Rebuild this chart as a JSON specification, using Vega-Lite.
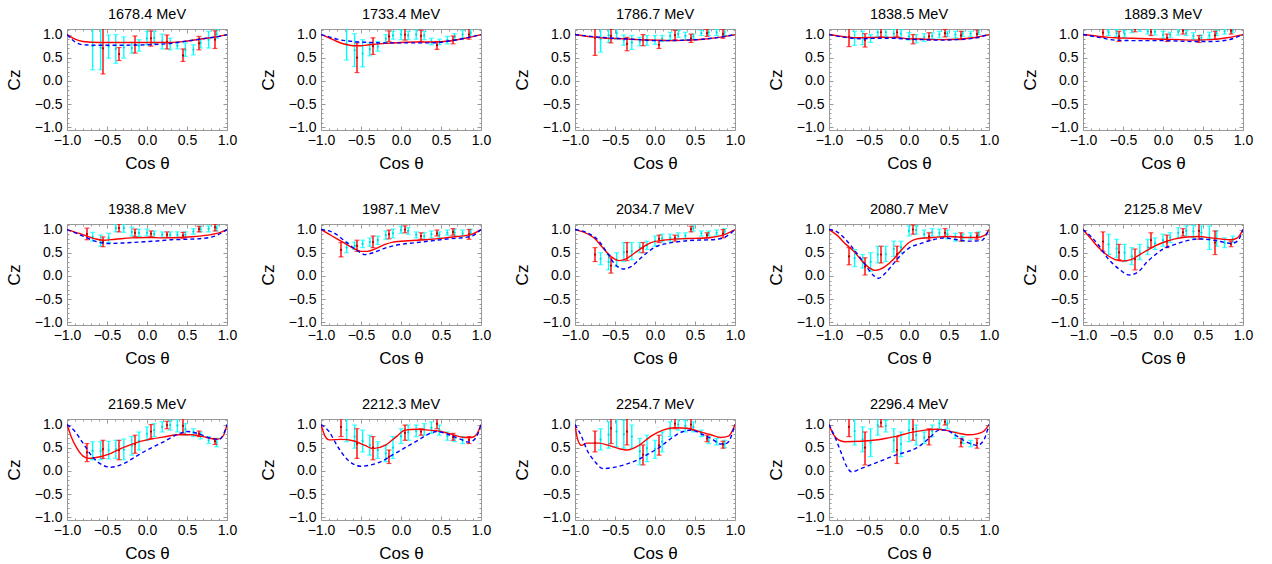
{
"$schema":"https://vega.github.io/schema/vega-lite/v6.json",
"background":"white",
"padding":{"left":4,"top":6,"right":5,"bottom":5},
"bounds":"flush",
"config":{"font":"Liberation Sans","view":{"stroke":"#999999","strokeWidth":1},
"axis":{"labelFont":"Liberation Sans","labelFontSize":14,"labelColor":"#000","titleFont":"Liberation Sans","titleFontSize":17,"titleFontWeight":"normal","titleColor":"#000","ticks":false,"domain":false,"grid":true,"gridColor":"#999999","gridWidth":1,"labelPadding":5,"labelFlush":false,"labelOverlap":false},
"axisY":{"titlePadding":11},"axisX":{"titlePadding":8,"labelPadding":3},
"header":{"labelFont":"Liberation Sans","labelFontSize":14.5,"labelColor":"#000"}},
"data":{"values":[
{"p":"1678.4 MeV","k":"c","x":-0.68,"lo":0.24,"y":0.75,"hi":1.26},
{"p":"1678.4 MeV","k":"c","x":-0.58,"lo":0.24,"y":0.72,"hi":1.2},
{"p":"1678.4 MeV","k":"c","x":-0.48,"lo":0.49,"y":0.74,"hi":0.99},
{"p":"1678.4 MeV","k":"c","x":-0.39,"lo":0.38,"y":0.69,"hi":1.0},
{"p":"1678.4 MeV","k":"c","x":-0.29,"lo":0.49,"y":0.72,"hi":0.95},
{"p":"1678.4 MeV","k":"c","x":-0.19,"lo":0.6,"y":0.71,"hi":0.83},
{"p":"1678.4 MeV","k":"c","x":-0.1,"lo":0.64,"y":0.76,"hi":0.89},
{"p":"1678.4 MeV","k":"c","x":0.0,"lo":0.78,"y":0.92,"hi":1.07},
{"p":"1678.4 MeV","k":"c","x":0.09,"lo":0.8,"y":0.93,"hi":1.07},
{"p":"1678.4 MeV","k":"c","x":0.19,"lo":0.69,"y":0.85,"hi":1.01},
{"p":"1678.4 MeV","k":"c","x":0.29,"lo":0.67,"y":0.8,"hi":0.92},
{"p":"1678.4 MeV","k":"c","x":0.38,"lo":0.69,"y":0.76,"hi":0.83},
{"p":"1678.4 MeV","k":"c","x":0.48,"lo":0.53,"y":0.67,"hi":0.82},
{"p":"1678.4 MeV","k":"c","x":0.58,"lo":0.56,"y":0.67,"hi":0.78},
{"p":"1678.4 MeV","k":"c","x":0.67,"lo":0.71,"y":0.82,"hi":0.92},
{"p":"1678.4 MeV","k":"c","x":0.77,"lo":0.71,"y":0.89,"hi":1.07},
{"p":"1678.4 MeV","k":"c","x":0.87,"lo":0.92,"y":1.01,"hi":1.1},
{"p":"1678.4 MeV","k":"r","x":-0.55,"lo":0.15,"y":0.7,"hi":1.25},
{"p":"1678.4 MeV","k":"r","x":-0.35,"lo":0.44,"y":0.58,"hi":0.72},
{"p":"1678.4 MeV","k":"r","x":-0.15,"lo":0.6,"y":0.78,"hi":0.97},
{"p":"1678.4 MeV","k":"r","x":0.05,"lo":0.75,"y":0.92,"hi":1.08},
{"p":"1678.4 MeV","k":"r","x":0.25,"lo":0.69,"y":0.84,"hi":0.99},
{"p":"1678.4 MeV","k":"r","x":0.45,"lo":0.42,"y":0.55,"hi":0.69},
{"p":"1678.4 MeV","k":"r","x":0.65,"lo":0.67,"y":0.81,"hi":0.96},
{"p":"1678.4 MeV","k":"r","x":0.85,"lo":0.7,"y":0.89,"hi":1.08},
{"p":"1678.4 MeV","k":"R","x":-1,"y":1},{"p":"1678.4 MeV","k":"R","x":-0.9,"y":0.9},{"p":"1678.4 MeV","k":"R","x":-0.8,"y":0.85},{"p":"1678.4 MeV","k":"R","x":-0.6,"y":0.83},{"p":"1678.4 MeV","k":"R","x":-0.3,"y":0.83},{"p":"1678.4 MeV","k":"R","x":0,"y":0.83},{"p":"1678.4 MeV","k":"R","x":0.3,"y":0.83},{"p":"1678.4 MeV","k":"R","x":0.5,"y":0.86},{"p":"1678.4 MeV","k":"R","x":0.7,"y":0.91},{"p":"1678.4 MeV","k":"R","x":0.9,"y":0.96},{"p":"1678.4 MeV","k":"R","x":1,"y":1},
{"p":"1678.4 MeV","k":"B","x":-1,"y":1},{"p":"1678.4 MeV","k":"B","x":-0.9,"y":0.84},{"p":"1678.4 MeV","k":"B","x":-0.8,"y":0.78},{"p":"1678.4 MeV","k":"B","x":-0.6,"y":0.77},{"p":"1678.4 MeV","k":"B","x":-0.3,"y":0.77},{"p":"1678.4 MeV","k":"B","x":0,"y":0.78},{"p":"1678.4 MeV","k":"B","x":0.3,"y":0.81},{"p":"1678.4 MeV","k":"B","x":0.5,"y":0.86},{"p":"1678.4 MeV","k":"B","x":0.7,"y":0.91},{"p":"1678.4 MeV","k":"B","x":0.9,"y":0.96},{"p":"1678.4 MeV","k":"B","x":1,"y":1},

{"p":"1733.4 MeV","k":"c","x":-0.68,"lo":0.45,"y":0.8,"hi":1.15},
{"p":"1733.4 MeV","k":"c","x":-0.58,"lo":0.31,"y":0.66,"hi":1.02},
{"p":"1733.4 MeV","k":"c","x":-0.48,"lo":0.3,"y":0.59,"hi":0.89},
{"p":"1733.4 MeV","k":"c","x":-0.39,"lo":0.54,"y":0.68,"hi":0.82},
{"p":"1733.4 MeV","k":"c","x":-0.29,"lo":0.64,"y":0.74,"hi":0.85},
{"p":"1733.4 MeV","k":"c","x":-0.19,"lo":0.83,"y":0.91,"hi":1.0},
{"p":"1733.4 MeV","k":"c","x":-0.1,"lo":0.9,"y":0.98,"hi":1.07},
{"p":"1733.4 MeV","k":"c","x":0.0,"lo":0.89,"y":1.0,"hi":1.1},
{"p":"1733.4 MeV","k":"c","x":0.09,"lo":0.89,"y":0.98,"hi":1.07},
{"p":"1733.4 MeV","k":"c","x":0.19,"lo":0.9,"y":1.0,"hi":1.1},
{"p":"1733.4 MeV","k":"c","x":0.29,"lo":0.89,"y":0.98,"hi":1.07},
{"p":"1733.4 MeV","k":"c","x":0.38,"lo":0.78,"y":0.85,"hi":0.92},
{"p":"1733.4 MeV","k":"c","x":0.48,"lo":0.78,"y":0.84,"hi":0.9},
{"p":"1733.4 MeV","k":"c","x":0.58,"lo":0.8,"y":0.88,"hi":0.96},
{"p":"1733.4 MeV","k":"c","x":0.67,"lo":0.87,"y":0.95,"hi":1.02},
{"p":"1733.4 MeV","k":"c","x":0.77,"lo":0.92,"y":1.0,"hi":1.09},
{"p":"1733.4 MeV","k":"c","x":0.87,"lo":0.96,"y":1.04,"hi":1.12},
{"p":"1733.4 MeV","k":"r","x":-0.55,"lo":0.18,"y":0.5,"hi":0.82},
{"p":"1733.4 MeV","k":"r","x":-0.35,"lo":0.57,"y":0.75,"hi":0.93},
{"p":"1733.4 MeV","k":"r","x":-0.15,"lo":0.85,"y":0.96,"hi":1.08},
{"p":"1733.4 MeV","k":"r","x":0.05,"lo":0.88,"y":1.0,"hi":1.13},
{"p":"1733.4 MeV","k":"r","x":0.25,"lo":0.85,"y":0.97,"hi":1.09},
{"p":"1733.4 MeV","k":"r","x":0.45,"lo":0.68,"y":0.77,"hi":0.85},
{"p":"1733.4 MeV","k":"r","x":0.65,"lo":0.8,"y":0.88,"hi":0.97},
{"p":"1733.4 MeV","k":"r","x":0.85,"lo":0.9,"y":1.0,"hi":1.13},
{"p":"1733.4 MeV","k":"R","x":-1,"y":1},{"p":"1733.4 MeV","k":"R","x":-0.9,"y":0.93},{"p":"1733.4 MeV","k":"R","x":-0.8,"y":0.85},{"p":"1733.4 MeV","k":"R","x":-0.7,"y":0.79},{"p":"1733.4 MeV","k":"R","x":-0.6,"y":0.76},{"p":"1733.4 MeV","k":"R","x":-0.5,"y":0.76},{"p":"1733.4 MeV","k":"R","x":-0.4,"y":0.78},{"p":"1733.4 MeV","k":"R","x":-0.2,"y":0.81},{"p":"1733.4 MeV","k":"R","x":0,"y":0.83},{"p":"1733.4 MeV","k":"R","x":0.2,"y":0.84},{"p":"1733.4 MeV","k":"R","x":0.4,"y":0.84},{"p":"1733.4 MeV","k":"R","x":0.6,"y":0.86},{"p":"1733.4 MeV","k":"R","x":0.8,"y":0.92},{"p":"1733.4 MeV","k":"R","x":1,"y":1},
{"p":"1733.4 MeV","k":"B","x":-1,"y":1},{"p":"1733.4 MeV","k":"B","x":-0.9,"y":0.95},{"p":"1733.4 MeV","k":"B","x":-0.8,"y":0.9},{"p":"1733.4 MeV","k":"B","x":-0.6,"y":0.85},{"p":"1733.4 MeV","k":"B","x":-0.4,"y":0.83},{"p":"1733.4 MeV","k":"B","x":-0.2,"y":0.82},{"p":"1733.4 MeV","k":"B","x":0,"y":0.82},{"p":"1733.4 MeV","k":"B","x":0.2,"y":0.82},{"p":"1733.4 MeV","k":"B","x":0.4,"y":0.82},{"p":"1733.4 MeV","k":"B","x":0.6,"y":0.86},{"p":"1733.4 MeV","k":"B","x":0.8,"y":0.92},{"p":"1733.4 MeV","k":"B","x":1,"y":1},

{"p":"1786.7 MeV","k":"c","x":-0.68,"lo":0.62,"y":0.9,"hi":1.18},
{"p":"1786.7 MeV","k":"c","x":-0.58,"lo":0.83,"y":0.98,"hi":1.14},
{"p":"1786.7 MeV","k":"c","x":-0.48,"lo":0.9,"y":1.03,"hi":1.16},
{"p":"1786.7 MeV","k":"c","x":-0.39,"lo":0.77,"y":0.88,"hi":0.99},
{"p":"1786.7 MeV","k":"c","x":-0.29,"lo":0.68,"y":0.83,"hi":0.98},
{"p":"1786.7 MeV","k":"c","x":-0.19,"lo":0.76,"y":0.85,"hi":0.94},
{"p":"1786.7 MeV","k":"c","x":-0.1,"lo":0.77,"y":0.87,"hi":0.98},
{"p":"1786.7 MeV","k":"c","x":0.0,"lo":0.79,"y":0.88,"hi":0.98},
{"p":"1786.7 MeV","k":"c","x":0.09,"lo":0.85,"y":0.91,"hi":0.98},
{"p":"1786.7 MeV","k":"c","x":0.19,"lo":0.89,"y":0.97,"hi":1.05},
{"p":"1786.7 MeV","k":"c","x":0.29,"lo":0.94,"y":1.01,"hi":1.09},
{"p":"1786.7 MeV","k":"c","x":0.38,"lo":0.89,"y":0.97,"hi":1.05},
{"p":"1786.7 MeV","k":"c","x":0.48,"lo":0.9,"y":0.96,"hi":1.01},
{"p":"1786.7 MeV","k":"c","x":0.58,"lo":0.98,"y":1.03,"hi":1.09},
{"p":"1786.7 MeV","k":"c","x":0.67,"lo":0.98,"y":1.05,"hi":1.12},
{"p":"1786.7 MeV","k":"c","x":0.77,"lo":0.98,"y":1.05,"hi":1.12},
{"p":"1786.7 MeV","k":"c","x":0.87,"lo":0.98,"y":1.05,"hi":1.12},
{"p":"1786.7 MeV","k":"r","x":-0.75,"lo":0.55,"y":0.93,"hi":1.3},
{"p":"1786.7 MeV","k":"r","x":-0.55,"lo":0.82,"y":0.97,"hi":1.12},
{"p":"1786.7 MeV","k":"r","x":-0.35,"lo":0.65,"y":0.8,"hi":0.94},
{"p":"1786.7 MeV","k":"r","x":-0.15,"lo":0.76,"y":0.88,"hi":1.0},
{"p":"1786.7 MeV","k":"r","x":0.05,"lo":0.7,"y":0.78,"hi":0.87},
{"p":"1786.7 MeV","k":"r","x":0.25,"lo":0.89,"y":0.99,"hi":1.09},
{"p":"1786.7 MeV","k":"r","x":0.45,"lo":0.83,"y":0.92,"hi":1.01},
{"p":"1786.7 MeV","k":"r","x":0.65,"lo":0.96,"y":1.03,"hi":1.11},
{"p":"1786.7 MeV","k":"r","x":0.85,"lo":0.92,"y":1.01,"hi":1.11},
{"p":"1786.7 MeV","k":"R","x":-1,"y":1},{"p":"1786.7 MeV","k":"R","x":-0.8,"y":0.95},{"p":"1786.7 MeV","k":"R","x":-0.6,"y":0.92},{"p":"1786.7 MeV","k":"R","x":-0.4,"y":0.91},{"p":"1786.7 MeV","k":"R","x":-0.2,"y":0.89},{"p":"1786.7 MeV","k":"R","x":0,"y":0.88},{"p":"1786.7 MeV","k":"R","x":0.2,"y":0.87},{"p":"1786.7 MeV","k":"R","x":0.4,"y":0.88},{"p":"1786.7 MeV","k":"R","x":0.6,"y":0.9},{"p":"1786.7 MeV","k":"R","x":0.8,"y":0.94},{"p":"1786.7 MeV","k":"R","x":1,"y":1},
{"p":"1786.7 MeV","k":"B","x":-1,"y":1},{"p":"1786.7 MeV","k":"B","x":-0.8,"y":0.96},{"p":"1786.7 MeV","k":"B","x":-0.6,"y":0.93},{"p":"1786.7 MeV","k":"B","x":-0.4,"y":0.91},{"p":"1786.7 MeV","k":"B","x":-0.2,"y":0.89},{"p":"1786.7 MeV","k":"B","x":0,"y":0.87},{"p":"1786.7 MeV","k":"B","x":0.2,"y":0.87},{"p":"1786.7 MeV","k":"B","x":0.4,"y":0.88},{"p":"1786.7 MeV","k":"B","x":0.6,"y":0.9},{"p":"1786.7 MeV","k":"B","x":0.8,"y":0.94},{"p":"1786.7 MeV","k":"B","x":1,"y":1},

{"p":"1838.5 MeV","k":"c","x":-0.68,"lo":0.77,"y":0.92,"hi":1.07},
{"p":"1838.5 MeV","k":"c","x":-0.58,"lo":0.78,"y":0.93,"hi":1.07},
{"p":"1838.5 MeV","k":"c","x":-0.48,"lo":0.83,"y":0.92,"hi":1.0},
{"p":"1838.5 MeV","k":"c","x":-0.39,"lo":0.96,"y":1.05,"hi":1.15},
{"p":"1838.5 MeV","k":"c","x":-0.29,"lo":0.96,"y":1.05,"hi":1.15},
{"p":"1838.5 MeV","k":"c","x":-0.19,"lo":0.93,"y":1.02,"hi":1.11},
{"p":"1838.5 MeV","k":"c","x":-0.1,"lo":0.93,"y":1.02,"hi":1.11},
{"p":"1838.5 MeV","k":"c","x":0.0,"lo":0.88,"y":0.96,"hi":1.04},
{"p":"1838.5 MeV","k":"c","x":0.09,"lo":0.82,"y":0.91,"hi":1.0},
{"p":"1838.5 MeV","k":"c","x":0.19,"lo":0.85,"y":0.94,"hi":1.02},
{"p":"1838.5 MeV","k":"c","x":0.29,"lo":0.91,"y":0.97,"hi":1.04},
{"p":"1838.5 MeV","k":"c","x":0.38,"lo":0.93,"y":1.0,"hi":1.07},
{"p":"1838.5 MeV","k":"c","x":0.48,"lo":0.96,"y":1.02,"hi":1.07},
{"p":"1838.5 MeV","k":"c","x":0.58,"lo":0.93,"y":1.0,"hi":1.07},
{"p":"1838.5 MeV","k":"c","x":0.67,"lo":0.96,"y":1.02,"hi":1.07},
{"p":"1838.5 MeV","k":"c","x":0.77,"lo":0.96,"y":1.02,"hi":1.07},
{"p":"1838.5 MeV","k":"c","x":0.87,"lo":1.0,"y":1.05,"hi":1.11},
{"p":"1838.5 MeV","k":"r","x":-0.75,"lo":0.74,"y":0.95,"hi":1.15},
{"p":"1838.5 MeV","k":"r","x":-0.55,"lo":0.73,"y":0.88,"hi":1.02},
{"p":"1838.5 MeV","k":"r","x":-0.35,"lo":0.95,"y":1.05,"hi":1.15},
{"p":"1838.5 MeV","k":"r","x":-0.15,"lo":0.96,"y":1.05,"hi":1.15},
{"p":"1838.5 MeV","k":"r","x":0.05,"lo":0.8,"y":0.9,"hi":1.0},
{"p":"1838.5 MeV","k":"r","x":0.25,"lo":0.88,"y":0.96,"hi":1.04},
{"p":"1838.5 MeV","k":"r","x":0.45,"lo":0.95,"y":1.03,"hi":1.11},
{"p":"1838.5 MeV","k":"r","x":0.65,"lo":0.89,"y":0.98,"hi":1.07},
{"p":"1838.5 MeV","k":"r","x":0.85,"lo":0.93,"y":1.01,"hi":1.1},
{"p":"1838.5 MeV","k":"R","x":-1,"y":1},{"p":"1838.5 MeV","k":"R","x":-0.8,"y":0.95},{"p":"1838.5 MeV","k":"R","x":-0.6,"y":0.93},{"p":"1838.5 MeV","k":"R","x":-0.4,"y":0.94},{"p":"1838.5 MeV","k":"R","x":-0.2,"y":0.94},{"p":"1838.5 MeV","k":"R","x":0,"y":0.91},{"p":"1838.5 MeV","k":"R","x":0.2,"y":0.9},{"p":"1838.5 MeV","k":"R","x":0.4,"y":0.89},{"p":"1838.5 MeV","k":"R","x":0.6,"y":0.9},{"p":"1838.5 MeV","k":"R","x":0.8,"y":0.93},{"p":"1838.5 MeV","k":"R","x":1,"y":1},
{"p":"1838.5 MeV","k":"B","x":-1,"y":1},{"p":"1838.5 MeV","k":"B","x":-0.8,"y":0.94},{"p":"1838.5 MeV","k":"B","x":-0.6,"y":0.91},{"p":"1838.5 MeV","k":"B","x":-0.4,"y":0.92},{"p":"1838.5 MeV","k":"B","x":-0.2,"y":0.92},{"p":"1838.5 MeV","k":"B","x":0,"y":0.9},{"p":"1838.5 MeV","k":"B","x":0.2,"y":0.89},{"p":"1838.5 MeV","k":"B","x":0.4,"y":0.88},{"p":"1838.5 MeV","k":"B","x":0.6,"y":0.89},{"p":"1838.5 MeV","k":"B","x":0.8,"y":0.92},{"p":"1838.5 MeV","k":"B","x":1,"y":1},

{"p":"1889.3 MeV","k":"c","x":-0.68,"lo":0.98,"y":1.05,"hi":1.12},
{"p":"1889.3 MeV","k":"c","x":-0.58,"lo":0.96,"y":1.03,"hi":1.11},
{"p":"1889.3 MeV","k":"c","x":-0.48,"lo":0.94,"y":1.01,"hi":1.09},
{"p":"1889.3 MeV","k":"c","x":-0.39,"lo":1.04,"y":1.09,"hi":1.14},
{"p":"1889.3 MeV","k":"c","x":-0.29,"lo":1.07,"y":1.11,"hi":1.16},
{"p":"1889.3 MeV","k":"c","x":-0.19,"lo":1.01,"y":1.07,"hi":1.12},
{"p":"1889.3 MeV","k":"c","x":-0.1,"lo":0.99,"y":1.06,"hi":1.12},
{"p":"1889.3 MeV","k":"c","x":0.0,"lo":0.92,"y":0.99,"hi":1.07},
{"p":"1889.3 MeV","k":"c","x":0.09,"lo":0.94,"y":1.0,"hi":1.05},
{"p":"1889.3 MeV","k":"c","x":0.19,"lo":0.99,"y":1.06,"hi":1.12},
{"p":"1889.3 MeV","k":"c","x":0.29,"lo":0.98,"y":1.03,"hi":1.09},
{"p":"1889.3 MeV","k":"c","x":0.38,"lo":0.9,"y":0.97,"hi":1.04},
{"p":"1889.3 MeV","k":"c","x":0.48,"lo":0.87,"y":0.93,"hi":0.99},
{"p":"1889.3 MeV","k":"c","x":0.58,"lo":0.92,"y":0.98,"hi":1.05},
{"p":"1889.3 MeV","k":"c","x":0.67,"lo":0.98,"y":1.03,"hi":1.09},
{"p":"1889.3 MeV","k":"c","x":0.77,"lo":1.01,"y":1.07,"hi":1.12},
{"p":"1889.3 MeV","k":"c","x":0.87,"lo":1.04,"y":1.09,"hi":1.14},
{"p":"1889.3 MeV","k":"r","x":-0.75,"lo":0.94,"y":1.04,"hi":1.15},
{"p":"1889.3 MeV","k":"r","x":-0.55,"lo":0.85,"y":0.96,"hi":1.07},
{"p":"1889.3 MeV","k":"r","x":-0.35,"lo":1.06,"y":1.13,"hi":1.2},
{"p":"1889.3 MeV","k":"r","x":-0.15,"lo":0.98,"y":1.06,"hi":1.14},
{"p":"1889.3 MeV","k":"r","x":0.05,"lo":0.85,"y":0.93,"hi":1.01},
{"p":"1889.3 MeV","k":"r","x":0.25,"lo":1.01,"y":1.08,"hi":1.15},
{"p":"1889.3 MeV","k":"r","x":0.45,"lo":0.83,"y":0.9,"hi":0.98},
{"p":"1889.3 MeV","k":"r","x":0.65,"lo":0.9,"y":0.98,"hi":1.07},
{"p":"1889.3 MeV","k":"r","x":0.85,"lo":1.01,"y":1.08,"hi":1.16},
{"p":"1889.3 MeV","k":"R","x":-1,"y":1},{"p":"1889.3 MeV","k":"R","x":-0.8,"y":0.96},{"p":"1889.3 MeV","k":"R","x":-0.6,"y":0.93},{"p":"1889.3 MeV","k":"R","x":-0.4,"y":0.92},{"p":"1889.3 MeV","k":"R","x":-0.2,"y":0.91},{"p":"1889.3 MeV","k":"R","x":0,"y":0.9},{"p":"1889.3 MeV","k":"R","x":0.2,"y":0.89},{"p":"1889.3 MeV","k":"R","x":0.4,"y":0.88},{"p":"1889.3 MeV","k":"R","x":0.6,"y":0.89},{"p":"1889.3 MeV","k":"R","x":0.8,"y":0.93},{"p":"1889.3 MeV","k":"R","x":1,"y":1},
{"p":"1889.3 MeV","k":"B","x":-1,"y":1},{"p":"1889.3 MeV","k":"B","x":-0.8,"y":0.94},{"p":"1889.3 MeV","k":"B","x":-0.6,"y":0.88},{"p":"1889.3 MeV","k":"B","x":-0.4,"y":0.87},{"p":"1889.3 MeV","k":"B","x":-0.2,"y":0.87},{"p":"1889.3 MeV","k":"B","x":0,"y":0.87},{"p":"1889.3 MeV","k":"B","x":0.2,"y":0.86},{"p":"1889.3 MeV","k":"B","x":0.4,"y":0.85},{"p":"1889.3 MeV","k":"B","x":0.6,"y":0.85},{"p":"1889.3 MeV","k":"B","x":0.8,"y":0.88},{"p":"1889.3 MeV","k":"B","x":1,"y":1},

{"p":"1938.8 MeV","k":"c","x":-0.68,"lo":0.75,"y":0.84,"hi":0.94},
{"p":"1938.8 MeV","k":"c","x":-0.58,"lo":0.64,"y":0.76,"hi":0.88},
{"p":"1938.8 MeV","k":"c","x":-0.48,"lo":0.72,"y":0.82,"hi":0.92},
{"p":"1938.8 MeV","k":"c","x":-0.39,"lo":0.95,"y":1.03,"hi":1.12},
{"p":"1938.8 MeV","k":"c","x":-0.29,"lo":0.94,"y":1.03,"hi":1.12},
{"p":"1938.8 MeV","k":"c","x":-0.19,"lo":0.86,"y":0.95,"hi":1.05},
{"p":"1938.8 MeV","k":"c","x":-0.1,"lo":0.85,"y":0.93,"hi":1.01},
{"p":"1938.8 MeV","k":"c","x":0.0,"lo":0.86,"y":0.93,"hi":1.01},
{"p":"1938.8 MeV","k":"c","x":0.09,"lo":0.83,"y":0.9,"hi":0.97},
{"p":"1938.8 MeV","k":"c","x":0.19,"lo":0.83,"y":0.89,"hi":0.95},
{"p":"1938.8 MeV","k":"c","x":0.29,"lo":0.83,"y":0.89,"hi":0.95},
{"p":"1938.8 MeV","k":"c","x":0.38,"lo":0.83,"y":0.89,"hi":0.95},
{"p":"1938.8 MeV","k":"c","x":0.48,"lo":0.83,"y":0.89,"hi":0.95},
{"p":"1938.8 MeV","k":"c","x":0.58,"lo":0.9,"y":0.96,"hi":1.02},
{"p":"1938.8 MeV","k":"c","x":0.67,"lo":0.95,"y":1.01,"hi":1.07},
{"p":"1938.8 MeV","k":"c","x":0.77,"lo":0.95,"y":1.02,"hi":1.08},
{"p":"1938.8 MeV","k":"c","x":0.87,"lo":0.97,"y":1.03,"hi":1.08},
{"p":"1938.8 MeV","k":"r","x":-0.75,"lo":0.78,"y":0.9,"hi":1.03},
{"p":"1938.8 MeV","k":"r","x":-0.55,"lo":0.63,"y":0.73,"hi":0.84},
{"p":"1938.8 MeV","k":"r","x":-0.35,"lo":0.95,"y":1.03,"hi":1.12},
{"p":"1938.8 MeV","k":"r","x":-0.15,"lo":0.85,"y":0.93,"hi":1.01},
{"p":"1938.8 MeV","k":"r","x":0.05,"lo":0.85,"y":0.91,"hi":0.97},
{"p":"1938.8 MeV","k":"r","x":0.25,"lo":0.83,"y":0.89,"hi":0.95},
{"p":"1938.8 MeV","k":"r","x":0.45,"lo":0.81,"y":0.87,"hi":0.94},
{"p":"1938.8 MeV","k":"r","x":0.65,"lo":0.95,"y":1.01,"hi":1.07},
{"p":"1938.8 MeV","k":"r","x":0.85,"lo":0.97,"y":1.05,"hi":1.12},
{"p":"1938.8 MeV","k":"R","x":-1,"y":1},{"p":"1938.8 MeV","k":"R","x":-0.8,"y":0.89},{"p":"1938.8 MeV","k":"R","x":-0.65,"y":0.8},{"p":"1938.8 MeV","k":"R","x":-0.55,"y":0.77},{"p":"1938.8 MeV","k":"R","x":-0.4,"y":0.79},{"p":"1938.8 MeV","k":"R","x":-0.2,"y":0.82},{"p":"1938.8 MeV","k":"R","x":0,"y":0.83},{"p":"1938.8 MeV","k":"R","x":0.2,"y":0.82},{"p":"1938.8 MeV","k":"R","x":0.4,"y":0.83},{"p":"1938.8 MeV","k":"R","x":0.6,"y":0.85},{"p":"1938.8 MeV","k":"R","x":0.8,"y":0.89},{"p":"1938.8 MeV","k":"R","x":0.9,"y":0.93},{"p":"1938.8 MeV","k":"R","x":1,"y":1},
{"p":"1938.8 MeV","k":"B","x":-1,"y":1},{"p":"1938.8 MeV","k":"B","x":-0.8,"y":0.86},{"p":"1938.8 MeV","k":"B","x":-0.65,"y":0.75},{"p":"1938.8 MeV","k":"B","x":-0.5,"y":0.7},{"p":"1938.8 MeV","k":"B","x":-0.3,"y":0.71},{"p":"1938.8 MeV","k":"B","x":-0.1,"y":0.73},{"p":"1938.8 MeV","k":"B","x":0.1,"y":0.75},{"p":"1938.8 MeV","k":"B","x":0.3,"y":0.78},{"p":"1938.8 MeV","k":"B","x":0.5,"y":0.79},{"p":"1938.8 MeV","k":"B","x":0.7,"y":0.81},{"p":"1938.8 MeV","k":"B","x":0.85,"y":0.86},{"p":"1938.8 MeV","k":"B","x":1,"y":1},

{"p":"1987.1 MeV","k":"c","x":-0.68,"lo":0.5,"y":0.61,"hi":0.72},
{"p":"1987.1 MeV","k":"c","x":-0.58,"lo":0.57,"y":0.65,"hi":0.73},
{"p":"1987.1 MeV","k":"c","x":-0.48,"lo":0.61,"y":0.69,"hi":0.77},
{"p":"1987.1 MeV","k":"c","x":-0.39,"lo":0.64,"y":0.73,"hi":0.82},
{"p":"1987.1 MeV","k":"c","x":-0.29,"lo":0.68,"y":0.77,"hi":0.86},
{"p":"1987.1 MeV","k":"c","x":-0.19,"lo":0.79,"y":0.88,"hi":0.97},
{"p":"1987.1 MeV","k":"c","x":-0.1,"lo":0.82,"y":0.92,"hi":1.01},
{"p":"1987.1 MeV","k":"c","x":0.0,"lo":0.92,"y":0.99,"hi":1.07},
{"p":"1987.1 MeV","k":"c","x":0.09,"lo":0.9,"y":0.97,"hi":1.04},
{"p":"1987.1 MeV","k":"c","x":0.19,"lo":0.82,"y":0.89,"hi":0.95},
{"p":"1987.1 MeV","k":"c","x":0.29,"lo":0.79,"y":0.86,"hi":0.93},
{"p":"1987.1 MeV","k":"c","x":0.38,"lo":0.82,"y":0.9,"hi":0.97},
{"p":"1987.1 MeV","k":"c","x":0.48,"lo":0.82,"y":0.89,"hi":0.95},
{"p":"1987.1 MeV","k":"c","x":0.58,"lo":0.88,"y":0.93,"hi":0.99},
{"p":"1987.1 MeV","k":"c","x":0.67,"lo":0.86,"y":0.93,"hi":1.01},
{"p":"1987.1 MeV","k":"c","x":0.77,"lo":0.86,"y":0.92,"hi":0.99},
{"p":"1987.1 MeV","k":"c","x":0.87,"lo":0.88,"y":0.94,"hi":1.01},
{"p":"1987.1 MeV","k":"r","x":-0.75,"lo":0.41,"y":0.56,"hi":0.72},
{"p":"1987.1 MeV","k":"r","x":-0.55,"lo":0.53,"y":0.65,"hi":0.77},
{"p":"1987.1 MeV","k":"r","x":-0.35,"lo":0.61,"y":0.73,"hi":0.86},
{"p":"1987.1 MeV","k":"r","x":-0.15,"lo":0.8,"y":0.9,"hi":0.99},
{"p":"1987.1 MeV","k":"r","x":0.05,"lo":0.93,"y":1.0,"hi":1.08},
{"p":"1987.1 MeV","k":"r","x":0.25,"lo":0.79,"y":0.86,"hi":0.93},
{"p":"1987.1 MeV","k":"r","x":0.45,"lo":0.86,"y":0.92,"hi":0.99},
{"p":"1987.1 MeV","k":"r","x":0.65,"lo":0.88,"y":0.95,"hi":1.02},
{"p":"1987.1 MeV","k":"r","x":0.85,"lo":0.79,"y":0.9,"hi":1.0},
{"p":"1987.1 MeV","k":"R","x":-1,"y":1},{"p":"1987.1 MeV","k":"R","x":-0.9,"y":0.9},{"p":"1987.1 MeV","k":"R","x":-0.8,"y":0.8},{"p":"1987.1 MeV","k":"R","x":-0.7,"y":0.7},{"p":"1987.1 MeV","k":"R","x":-0.6,"y":0.6},{"p":"1987.1 MeV","k":"R","x":-0.5,"y":0.53},{"p":"1987.1 MeV","k":"R","x":-0.42,"y":0.53},{"p":"1987.1 MeV","k":"R","x":-0.3,"y":0.6},{"p":"1987.1 MeV","k":"R","x":-0.2,"y":0.68},{"p":"1987.1 MeV","k":"R","x":-0.1,"y":0.73},{"p":"1987.1 MeV","k":"R","x":0.1,"y":0.76},{"p":"1987.1 MeV","k":"R","x":0.3,"y":0.78},{"p":"1987.1 MeV","k":"R","x":0.5,"y":0.81},{"p":"1987.1 MeV","k":"R","x":0.7,"y":0.85},{"p":"1987.1 MeV","k":"R","x":0.87,"y":0.89},{"p":"1987.1 MeV","k":"R","x":1,"y":1},
{"p":"1987.1 MeV","k":"B","x":-1,"y":1},{"p":"1987.1 MeV","k":"B","x":-0.85,"y":0.94},{"p":"1987.1 MeV","k":"B","x":-0.7,"y":0.75},{"p":"1987.1 MeV","k":"B","x":-0.55,"y":0.55},{"p":"1987.1 MeV","k":"B","x":-0.45,"y":0.46},{"p":"1987.1 MeV","k":"B","x":-0.35,"y":0.5},{"p":"1987.1 MeV","k":"B","x":-0.2,"y":0.6},{"p":"1987.1 MeV","k":"B","x":0,"y":0.68},{"p":"1987.1 MeV","k":"B","x":0.2,"y":0.72},{"p":"1987.1 MeV","k":"B","x":0.4,"y":0.76},{"p":"1987.1 MeV","k":"B","x":0.6,"y":0.8},{"p":"1987.1 MeV","k":"B","x":0.8,"y":0.83},{"p":"1987.1 MeV","k":"B","x":0.9,"y":0.87},{"p":"1987.1 MeV","k":"B","x":1,"y":1},

{"p":"2034.7 MeV","k":"c","x":-0.68,"lo":0.24,"y":0.37,"hi":0.5},
{"p":"2034.7 MeV","k":"c","x":-0.58,"lo":0.13,"y":0.3,"hi":0.46},
{"p":"2034.7 MeV","k":"c","x":-0.48,"lo":0.2,"y":0.35,"hi":0.5},
{"p":"2034.7 MeV","k":"c","x":-0.39,"lo":0.31,"y":0.51,"hi":0.72},
{"p":"2034.7 MeV","k":"c","x":-0.29,"lo":0.35,"y":0.53,"hi":0.72},
{"p":"2034.7 MeV","k":"c","x":-0.19,"lo":0.5,"y":0.61,"hi":0.72},
{"p":"2034.7 MeV","k":"c","x":-0.1,"lo":0.57,"y":0.66,"hi":0.75},
{"p":"2034.7 MeV","k":"c","x":0.0,"lo":0.64,"y":0.75,"hi":0.86},
{"p":"2034.7 MeV","k":"c","x":0.09,"lo":0.73,"y":0.81,"hi":0.9},
{"p":"2034.7 MeV","k":"c","x":0.19,"lo":0.75,"y":0.82,"hi":0.9},
{"p":"2034.7 MeV","k":"c","x":0.29,"lo":0.79,"y":0.86,"hi":0.93},
{"p":"2034.7 MeV","k":"c","x":0.38,"lo":0.8,"y":0.87,"hi":0.93},
{"p":"2034.7 MeV","k":"c","x":0.48,"lo":0.97,"y":1.03,"hi":1.08},
{"p":"2034.7 MeV","k":"c","x":0.58,"lo":0.86,"y":0.92,"hi":0.97},
{"p":"2034.7 MeV","k":"c","x":0.67,"lo":0.86,"y":0.92,"hi":0.97},
{"p":"2034.7 MeV","k":"c","x":0.77,"lo":0.88,"y":0.93,"hi":0.99},
{"p":"2034.7 MeV","k":"c","x":0.87,"lo":0.9,"y":0.96,"hi":1.02},
{"p":"2034.7 MeV","k":"r","x":-0.75,"lo":0.31,"y":0.46,"hi":0.61},
{"p":"2034.7 MeV","k":"r","x":-0.55,"lo":0.06,"y":0.22,"hi":0.39},
{"p":"2034.7 MeV","k":"r","x":-0.35,"lo":0.33,"y":0.52,"hi":0.72},
{"p":"2034.7 MeV","k":"r","x":-0.15,"lo":0.5,"y":0.61,"hi":0.72},
{"p":"2034.7 MeV","k":"r","x":0.05,"lo":0.72,"y":0.8,"hi":0.88},
{"p":"2034.7 MeV","k":"r","x":0.25,"lo":0.75,"y":0.82,"hi":0.88},
{"p":"2034.7 MeV","k":"r","x":0.45,"lo":0.95,"y":1.01,"hi":1.07},
{"p":"2034.7 MeV","k":"r","x":0.65,"lo":0.82,"y":0.88,"hi":0.93},
{"p":"2034.7 MeV","k":"r","x":0.85,"lo":0.82,"y":0.91,"hi":1.0},
{"p":"2034.7 MeV","k":"R","x":-1,"y":1},{"p":"2034.7 MeV","k":"R","x":-0.9,"y":0.95},{"p":"2034.7 MeV","k":"R","x":-0.75,"y":0.8},{"p":"2034.7 MeV","k":"R","x":-0.65,"y":0.6},{"p":"2034.7 MeV","k":"R","x":-0.55,"y":0.42},{"p":"2034.7 MeV","k":"R","x":-0.45,"y":0.33},{"p":"2034.7 MeV","k":"R","x":-0.35,"y":0.38},{"p":"2034.7 MeV","k":"R","x":-0.25,"y":0.5},{"p":"2034.7 MeV","k":"R","x":-0.15,"y":0.62},{"p":"2034.7 MeV","k":"R","x":-0.05,"y":0.72},{"p":"2034.7 MeV","k":"R","x":0.1,"y":0.77},{"p":"2034.7 MeV","k":"R","x":0.3,"y":0.8},{"p":"2034.7 MeV","k":"R","x":0.5,"y":0.81},{"p":"2034.7 MeV","k":"R","x":0.7,"y":0.83},{"p":"2034.7 MeV","k":"R","x":0.85,"y":0.88},{"p":"2034.7 MeV","k":"R","x":1,"y":1},
{"p":"2034.7 MeV","k":"B","x":-1,"y":1},{"p":"2034.7 MeV","k":"B","x":-0.85,"y":0.93},{"p":"2034.7 MeV","k":"B","x":-0.7,"y":0.75},{"p":"2034.7 MeV","k":"B","x":-0.6,"y":0.5},{"p":"2034.7 MeV","k":"B","x":-0.5,"y":0.25},{"p":"2034.7 MeV","k":"B","x":-0.4,"y":0.15},{"p":"2034.7 MeV","k":"B","x":-0.3,"y":0.2},{"p":"2034.7 MeV","k":"B","x":-0.2,"y":0.35},{"p":"2034.7 MeV","k":"B","x":-0.1,"y":0.5},{"p":"2034.7 MeV","k":"B","x":0,"y":0.62},{"p":"2034.7 MeV","k":"B","x":0.15,"y":0.7},{"p":"2034.7 MeV","k":"B","x":0.3,"y":0.74},{"p":"2034.7 MeV","k":"B","x":0.5,"y":0.77},{"p":"2034.7 MeV","k":"B","x":0.7,"y":0.78},{"p":"2034.7 MeV","k":"B","x":0.85,"y":0.82},{"p":"2034.7 MeV","k":"B","x":1,"y":1},

{"p":"2080.7 MeV","k":"c","x":-0.68,"lo":0.2,"y":0.38,"hi":0.57},
{"p":"2080.7 MeV","k":"c","x":-0.58,"lo":0.17,"y":0.31,"hi":0.46},
{"p":"2080.7 MeV","k":"c","x":-0.48,"lo":0.1,"y":0.3,"hi":0.5},
{"p":"2080.7 MeV","k":"c","x":-0.39,"lo":0.28,"y":0.46,"hi":0.64},
{"p":"2080.7 MeV","k":"c","x":-0.29,"lo":0.31,"y":0.47,"hi":0.64},
{"p":"2080.7 MeV","k":"c","x":-0.19,"lo":0.42,"y":0.58,"hi":0.75},
{"p":"2080.7 MeV","k":"c","x":-0.1,"lo":0.5,"y":0.62,"hi":0.75},
{"p":"2080.7 MeV","k":"c","x":0.0,"lo":0.86,"y":0.97,"hi":1.08},
{"p":"2080.7 MeV","k":"c","x":0.09,"lo":0.9,"y":0.99,"hi":1.08},
{"p":"2080.7 MeV","k":"c","x":0.19,"lo":0.82,"y":0.9,"hi":0.99},
{"p":"2080.7 MeV","k":"c","x":0.29,"lo":0.86,"y":0.94,"hi":1.02},
{"p":"2080.7 MeV","k":"c","x":0.38,"lo":0.85,"y":0.93,"hi":1.01},
{"p":"2080.7 MeV","k":"c","x":0.48,"lo":0.8,"y":0.9,"hi":0.99},
{"p":"2080.7 MeV","k":"c","x":0.58,"lo":0.75,"y":0.84,"hi":0.92},
{"p":"2080.7 MeV","k":"c","x":0.67,"lo":0.75,"y":0.82,"hi":0.9},
{"p":"2080.7 MeV","k":"c","x":0.77,"lo":0.79,"y":0.86,"hi":0.93},
{"p":"2080.7 MeV","k":"c","x":0.87,"lo":0.83,"y":0.89,"hi":0.95},
{"p":"2080.7 MeV","k":"r","x":-0.75,"lo":0.24,"y":0.42,"hi":0.61},
{"p":"2080.7 MeV","k":"r","x":-0.55,"lo":0.02,"y":0.2,"hi":0.39},
{"p":"2080.7 MeV","k":"r","x":-0.35,"lo":0.28,"y":0.46,"hi":0.64},
{"p":"2080.7 MeV","k":"r","x":-0.15,"lo":0.31,"y":0.47,"hi":0.64},
{"p":"2080.7 MeV","k":"r","x":0.05,"lo":0.9,"y":1.0,"hi":1.1},
{"p":"2080.7 MeV","k":"r","x":0.25,"lo":0.77,"y":0.85,"hi":0.93},
{"p":"2080.7 MeV","k":"r","x":0.45,"lo":0.85,"y":0.93,"hi":1.02},
{"p":"2080.7 MeV","k":"r","x":0.65,"lo":0.75,"y":0.84,"hi":0.93},
{"p":"2080.7 MeV","k":"r","x":0.85,"lo":0.79,"y":0.86,"hi":0.93},
{"p":"2080.7 MeV","k":"R","x":-1,"y":1},{"p":"2080.7 MeV","k":"R","x":-0.9,"y":0.88},{"p":"2080.7 MeV","k":"R","x":-0.8,"y":0.7},{"p":"2080.7 MeV","k":"R","x":-0.7,"y":0.55},{"p":"2080.7 MeV","k":"R","x":-0.6,"y":0.35},{"p":"2080.7 MeV","k":"R","x":-0.5,"y":0.18},{"p":"2080.7 MeV","k":"R","x":-0.42,"y":0.12},{"p":"2080.7 MeV","k":"R","x":-0.3,"y":0.2},{"p":"2080.7 MeV","k":"R","x":-0.2,"y":0.35},{"p":"2080.7 MeV","k":"R","x":-0.1,"y":0.55},{"p":"2080.7 MeV","k":"R","x":0,"y":0.72},{"p":"2080.7 MeV","k":"R","x":0.1,"y":0.8},{"p":"2080.7 MeV","k":"R","x":0.3,"y":0.83},{"p":"2080.7 MeV","k":"R","x":0.5,"y":0.85},{"p":"2080.7 MeV","k":"R","x":0.7,"y":0.83},{"p":"2080.7 MeV","k":"R","x":0.85,"y":0.83},{"p":"2080.7 MeV","k":"R","x":0.95,"y":0.88},{"p":"2080.7 MeV","k":"R","x":1,"y":1},
{"p":"2080.7 MeV","k":"B","x":-1,"y":1},{"p":"2080.7 MeV","k":"B","x":-0.9,"y":0.95},{"p":"2080.7 MeV","k":"B","x":-0.8,"y":0.8},{"p":"2080.7 MeV","k":"B","x":-0.68,"y":0.55},{"p":"2080.7 MeV","k":"B","x":-0.55,"y":0.25},{"p":"2080.7 MeV","k":"B","x":-0.45,"y":0.02},{"p":"2080.7 MeV","k":"B","x":-0.38,"y":-0.05},{"p":"2080.7 MeV","k":"B","x":-0.3,"y":0.05},{"p":"2080.7 MeV","k":"B","x":-0.2,"y":0.25},{"p":"2080.7 MeV","k":"B","x":-0.1,"y":0.45},{"p":"2080.7 MeV","k":"B","x":0,"y":0.6},{"p":"2080.7 MeV","k":"B","x":0.15,"y":0.7},{"p":"2080.7 MeV","k":"B","x":0.3,"y":0.78},{"p":"2080.7 MeV","k":"B","x":0.45,"y":0.82},{"p":"2080.7 MeV","k":"B","x":0.6,"y":0.78},{"p":"2080.7 MeV","k":"B","x":0.75,"y":0.75},{"p":"2080.7 MeV","k":"B","x":0.9,"y":0.76},{"p":"2080.7 MeV","k":"B","x":1,"y":1},

{"p":"2125.8 MeV","k":"c","x":-0.68,"lo":0.46,"y":0.68,"hi":0.9},
{"p":"2125.8 MeV","k":"c","x":-0.58,"lo":0.39,"y":0.59,"hi":0.79},
{"p":"2125.8 MeV","k":"c","x":-0.48,"lo":0.31,"y":0.5,"hi":0.68},
{"p":"2125.8 MeV","k":"c","x":-0.39,"lo":0.24,"y":0.42,"hi":0.61},
{"p":"2125.8 MeV","k":"c","x":-0.29,"lo":0.35,"y":0.51,"hi":0.68},
{"p":"2125.8 MeV","k":"c","x":-0.19,"lo":0.46,"y":0.62,"hi":0.79},
{"p":"2125.8 MeV","k":"c","x":-0.1,"lo":0.57,"y":0.7,"hi":0.82},
{"p":"2125.8 MeV","k":"c","x":0.0,"lo":0.64,"y":0.77,"hi":0.9},
{"p":"2125.8 MeV","k":"c","x":0.09,"lo":0.72,"y":0.83,"hi":0.93},
{"p":"2125.8 MeV","k":"c","x":0.19,"lo":0.82,"y":0.93,"hi":1.04},
{"p":"2125.8 MeV","k":"c","x":0.29,"lo":0.86,"y":0.97,"hi":1.08},
{"p":"2125.8 MeV","k":"c","x":0.38,"lo":0.82,"y":0.96,"hi":1.09},
{"p":"2125.8 MeV","k":"c","x":0.48,"lo":0.79,"y":0.93,"hi":1.08},
{"p":"2125.8 MeV","k":"c","x":0.58,"lo":0.57,"y":0.82,"hi":1.08},
{"p":"2125.8 MeV","k":"c","x":0.67,"lo":0.64,"y":0.81,"hi":0.97},
{"p":"2125.8 MeV","k":"c","x":0.77,"lo":0.61,"y":0.71,"hi":0.82},
{"p":"2125.8 MeV","k":"c","x":0.87,"lo":0.72,"y":0.79,"hi":0.86},
{"p":"2125.8 MeV","k":"r","x":-0.75,"lo":0.53,"y":0.74,"hi":0.95},
{"p":"2125.8 MeV","k":"r","x":-0.55,"lo":0.35,"y":0.51,"hi":0.68},
{"p":"2125.8 MeV","k":"r","x":-0.35,"lo":0.13,"y":0.36,"hi":0.58},
{"p":"2125.8 MeV","k":"r","x":-0.15,"lo":0.61,"y":0.77,"hi":0.93},
{"p":"2125.8 MeV","k":"r","x":0.05,"lo":0.61,"y":0.74,"hi":0.88},
{"p":"2125.8 MeV","k":"r","x":0.25,"lo":0.86,"y":0.94,"hi":1.02},
{"p":"2125.8 MeV","k":"r","x":0.45,"lo":0.79,"y":0.97,"hi":1.15},
{"p":"2125.8 MeV","k":"r","x":0.65,"lo":0.46,"y":0.72,"hi":0.97},
{"p":"2125.8 MeV","k":"r","x":0.85,"lo":0.63,"y":0.69,"hi":0.75},
{"p":"2125.8 MeV","k":"R","x":-1,"y":1},{"p":"2125.8 MeV","k":"R","x":-0.9,"y":0.8},{"p":"2125.8 MeV","k":"R","x":-0.8,"y":0.6},{"p":"2125.8 MeV","k":"R","x":-0.7,"y":0.45},{"p":"2125.8 MeV","k":"R","x":-0.6,"y":0.35},{"p":"2125.8 MeV","k":"R","x":-0.5,"y":0.32},{"p":"2125.8 MeV","k":"R","x":-0.4,"y":0.35},{"p":"2125.8 MeV","k":"R","x":-0.3,"y":0.45},{"p":"2125.8 MeV","k":"R","x":-0.2,"y":0.55},{"p":"2125.8 MeV","k":"R","x":-0.1,"y":0.65},{"p":"2125.8 MeV","k":"R","x":0,"y":0.72},{"p":"2125.8 MeV","k":"R","x":0.15,"y":0.8},{"p":"2125.8 MeV","k":"R","x":0.3,"y":0.84},{"p":"2125.8 MeV","k":"R","x":0.45,"y":0.85},{"p":"2125.8 MeV","k":"R","x":0.6,"y":0.82},{"p":"2125.8 MeV","k":"R","x":0.75,"y":0.79},{"p":"2125.8 MeV","k":"R","x":0.85,"y":0.78},{"p":"2125.8 MeV","k":"R","x":0.93,"y":0.82},{"p":"2125.8 MeV","k":"R","x":1,"y":1},
{"p":"2125.8 MeV","k":"B","x":-1,"y":1},{"p":"2125.8 MeV","k":"B","x":-0.9,"y":0.85},{"p":"2125.8 MeV","k":"B","x":-0.8,"y":0.65},{"p":"2125.8 MeV","k":"B","x":-0.7,"y":0.4},{"p":"2125.8 MeV","k":"B","x":-0.55,"y":0.15},{"p":"2125.8 MeV","k":"B","x":-0.42,"y":0.02},{"p":"2125.8 MeV","k":"B","x":-0.3,"y":0.1},{"p":"2125.8 MeV","k":"B","x":-0.2,"y":0.3},{"p":"2125.8 MeV","k":"B","x":-0.1,"y":0.45},{"p":"2125.8 MeV","k":"B","x":0,"y":0.58},{"p":"2125.8 MeV","k":"B","x":0.15,"y":0.68},{"p":"2125.8 MeV","k":"B","x":0.3,"y":0.76},{"p":"2125.8 MeV","k":"B","x":0.45,"y":0.8},{"p":"2125.8 MeV","k":"B","x":0.6,"y":0.78},{"p":"2125.8 MeV","k":"B","x":0.75,"y":0.73},{"p":"2125.8 MeV","k":"B","x":0.85,"y":0.7},{"p":"2125.8 MeV","k":"B","x":0.93,"y":0.75},{"p":"2125.8 MeV","k":"B","x":1,"y":1},

{"p":"2169.5 MeV","k":"c","x":-0.68,"lo":0.24,"y":0.43,"hi":0.63},
{"p":"2169.5 MeV","k":"c","x":-0.58,"lo":0.24,"y":0.43,"hi":0.63},
{"p":"2169.5 MeV","k":"c","x":-0.48,"lo":0.26,"y":0.45,"hi":0.64},
{"p":"2169.5 MeV","k":"c","x":-0.39,"lo":0.27,"y":0.47,"hi":0.66},
{"p":"2169.5 MeV","k":"c","x":-0.29,"lo":0.24,"y":0.46,"hi":0.69},
{"p":"2169.5 MeV","k":"c","x":-0.19,"lo":0.34,"y":0.54,"hi":0.74},
{"p":"2169.5 MeV","k":"c","x":-0.1,"lo":0.45,"y":0.65,"hi":0.84},
{"p":"2169.5 MeV","k":"c","x":0.0,"lo":0.66,"y":0.8,"hi":0.95},
{"p":"2169.5 MeV","k":"c","x":0.09,"lo":0.74,"y":0.88,"hi":1.02},
{"p":"2169.5 MeV","k":"c","x":0.19,"lo":0.84,"y":0.95,"hi":1.06},
{"p":"2169.5 MeV","k":"c","x":0.29,"lo":0.88,"y":0.99,"hi":1.09},
{"p":"2169.5 MeV","k":"c","x":0.38,"lo":0.84,"y":0.98,"hi":1.13},
{"p":"2169.5 MeV","k":"c","x":0.48,"lo":0.77,"y":0.9,"hi":1.02},
{"p":"2169.5 MeV","k":"c","x":0.58,"lo":0.74,"y":0.83,"hi":0.91},
{"p":"2169.5 MeV","k":"c","x":0.67,"lo":0.69,"y":0.76,"hi":0.84},
{"p":"2169.5 MeV","k":"c","x":0.77,"lo":0.59,"y":0.66,"hi":0.74},
{"p":"2169.5 MeV","k":"c","x":0.87,"lo":0.52,"y":0.61,"hi":0.7},
{"p":"2169.5 MeV","k":"r","x":-0.75,"lo":0.2,"y":0.4,"hi":0.59},
{"p":"2169.5 MeV","k":"r","x":-0.55,"lo":0.27,"y":0.47,"hi":0.66},
{"p":"2169.5 MeV","k":"r","x":-0.35,"lo":0.24,"y":0.45,"hi":0.66},
{"p":"2169.5 MeV","k":"r","x":-0.15,"lo":0.38,"y":0.58,"hi":0.77},
{"p":"2169.5 MeV","k":"r","x":0.05,"lo":0.7,"y":0.85,"hi":1.0},
{"p":"2169.5 MeV","k":"r","x":0.25,"lo":0.91,"y":0.99,"hi":1.07},
{"p":"2169.5 MeV","k":"r","x":0.45,"lo":0.81,"y":0.97,"hi":1.13},
{"p":"2169.5 MeV","k":"r","x":0.65,"lo":0.74,"y":0.8,"hi":0.86},
{"p":"2169.5 MeV","k":"r","x":0.85,"lo":0.57,"y":0.64,"hi":0.7},
{"p":"2169.5 MeV","k":"R","x":-1,"y":1},{"p":"2169.5 MeV","k":"R","x":-0.95,"y":0.75},{"p":"2169.5 MeV","k":"R","x":-0.88,"y":0.5},{"p":"2169.5 MeV","k":"R","x":-0.8,"y":0.32},{"p":"2169.5 MeV","k":"R","x":-0.72,"y":0.27},{"p":"2169.5 MeV","k":"R","x":-0.6,"y":0.3},{"p":"2169.5 MeV","k":"R","x":-0.45,"y":0.38},{"p":"2169.5 MeV","k":"R","x":-0.3,"y":0.5},{"p":"2169.5 MeV","k":"R","x":-0.15,"y":0.6},{"p":"2169.5 MeV","k":"R","x":0,"y":0.67},{"p":"2169.5 MeV","k":"R","x":0.2,"y":0.73},{"p":"2169.5 MeV","k":"R","x":0.4,"y":0.78},{"p":"2169.5 MeV","k":"R","x":0.55,"y":0.78},{"p":"2169.5 MeV","k":"R","x":0.7,"y":0.74},{"p":"2169.5 MeV","k":"R","x":0.8,"y":0.7},{"p":"2169.5 MeV","k":"R","x":0.88,"y":0.68},{"p":"2169.5 MeV","k":"R","x":0.95,"y":0.75},{"p":"2169.5 MeV","k":"R","x":1,"y":1},
{"p":"2169.5 MeV","k":"B","x":-1,"y":1},{"p":"2169.5 MeV","k":"B","x":-0.9,"y":0.85},{"p":"2169.5 MeV","k":"B","x":-0.8,"y":0.6},{"p":"2169.5 MeV","k":"B","x":-0.68,"y":0.3},{"p":"2169.5 MeV","k":"B","x":-0.55,"y":0.12},{"p":"2169.5 MeV","k":"B","x":-0.45,"y":0.08},{"p":"2169.5 MeV","k":"B","x":-0.3,"y":0.15},{"p":"2169.5 MeV","k":"B","x":-0.15,"y":0.3},{"p":"2169.5 MeV","k":"B","x":0,"y":0.45},{"p":"2169.5 MeV","k":"B","x":0.2,"y":0.62},{"p":"2169.5 MeV","k":"B","x":0.4,"y":0.8},{"p":"2169.5 MeV","k":"B","x":0.5,"y":0.85},{"p":"2169.5 MeV","k":"B","x":0.65,"y":0.8},{"p":"2169.5 MeV","k":"B","x":0.8,"y":0.7},{"p":"2169.5 MeV","k":"B","x":0.9,"y":0.68},{"p":"2169.5 MeV","k":"B","x":0.96,"y":0.8},{"p":"2169.5 MeV","k":"B","x":1,"y":1},

{"p":"2212.3 MeV","k":"c","x":-0.68,"lo":0.63,"y":0.88,"hi":1.13},
{"p":"2212.3 MeV","k":"c","x":-0.58,"lo":0.49,"y":0.74,"hi":0.99},
{"p":"2212.3 MeV","k":"c","x":-0.48,"lo":0.41,"y":0.65,"hi":0.88},
{"p":"2212.3 MeV","k":"c","x":-0.39,"lo":0.34,"y":0.56,"hi":0.77},
{"p":"2212.3 MeV","k":"c","x":-0.29,"lo":0.27,"y":0.45,"hi":0.63},
{"p":"2212.3 MeV","k":"c","x":-0.19,"lo":0.2,"y":0.38,"hi":0.56},
{"p":"2212.3 MeV","k":"c","x":-0.1,"lo":0.27,"y":0.5,"hi":0.74},
{"p":"2212.3 MeV","k":"c","x":0.0,"lo":0.59,"y":0.75,"hi":0.91},
{"p":"2212.3 MeV","k":"c","x":0.09,"lo":0.66,"y":0.83,"hi":0.99},
{"p":"2212.3 MeV","k":"c","x":0.19,"lo":0.74,"y":0.86,"hi":0.99},
{"p":"2212.3 MeV","k":"c","x":0.29,"lo":0.77,"y":0.9,"hi":1.02},
{"p":"2212.3 MeV","k":"c","x":0.38,"lo":0.81,"y":0.93,"hi":1.06},
{"p":"2212.3 MeV","k":"c","x":0.48,"lo":0.77,"y":0.88,"hi":0.99},
{"p":"2212.3 MeV","k":"c","x":0.58,"lo":0.66,"y":0.75,"hi":0.84},
{"p":"2212.3 MeV","k":"c","x":0.67,"lo":0.63,"y":0.7,"hi":0.77},
{"p":"2212.3 MeV","k":"c","x":0.77,"lo":0.59,"y":0.66,"hi":0.74},
{"p":"2212.3 MeV","k":"r","x":-0.75,"lo":0.74,"y":0.95,"hi":1.15},
{"p":"2212.3 MeV","k":"r","x":-0.55,"lo":0.27,"y":0.59,"hi":0.91},
{"p":"2212.3 MeV","k":"r","x":-0.35,"lo":0.24,"y":0.5,"hi":0.74},
{"p":"2212.3 MeV","k":"r","x":-0.15,"lo":0.16,"y":0.3,"hi":0.45},
{"p":"2212.3 MeV","k":"r","x":0.05,"lo":0.66,"y":0.82,"hi":0.99},
{"p":"2212.3 MeV","k":"r","x":0.25,"lo":0.77,"y":0.85,"hi":0.91},
{"p":"2212.3 MeV","k":"r","x":0.45,"lo":0.91,"y":1.02,"hi":1.13},
{"p":"2212.3 MeV","k":"r","x":0.65,"lo":0.66,"y":0.73,"hi":0.81},
{"p":"2212.3 MeV","k":"r","x":0.85,"lo":0.59,"y":0.67,"hi":0.74},
{"p":"2212.3 MeV","k":"R","x":-1,"y":1},{"p":"2212.3 MeV","k":"R","x":-0.95,"y":0.75},{"p":"2212.3 MeV","k":"R","x":-0.9,"y":0.67},{"p":"2212.3 MeV","k":"R","x":-0.75,"y":0.68},{"p":"2212.3 MeV","k":"R","x":-0.6,"y":0.65},{"p":"2212.3 MeV","k":"R","x":-0.45,"y":0.55},{"p":"2212.3 MeV","k":"R","x":-0.35,"y":0.48},{"p":"2212.3 MeV","k":"R","x":-0.2,"y":0.55},{"p":"2212.3 MeV","k":"R","x":-0.05,"y":0.75},{"p":"2212.3 MeV","k":"R","x":0.05,"y":0.88},{"p":"2212.3 MeV","k":"R","x":0.2,"y":0.9},{"p":"2212.3 MeV","k":"R","x":0.35,"y":0.88},{"p":"2212.3 MeV","k":"R","x":0.5,"y":0.85},{"p":"2212.3 MeV","k":"R","x":0.65,"y":0.78},{"p":"2212.3 MeV","k":"R","x":0.8,"y":0.72},{"p":"2212.3 MeV","k":"R","x":0.88,"y":0.72},{"p":"2212.3 MeV","k":"R","x":0.95,"y":0.8},{"p":"2212.3 MeV","k":"R","x":1,"y":1},
{"p":"2212.3 MeV","k":"B","x":-1,"y":1},{"p":"2212.3 MeV","k":"B","x":-0.9,"y":0.85},{"p":"2212.3 MeV","k":"B","x":-0.8,"y":0.55},{"p":"2212.3 MeV","k":"B","x":-0.7,"y":0.3},{"p":"2212.3 MeV","k":"B","x":-0.6,"y":0.15},{"p":"2212.3 MeV","k":"B","x":-0.5,"y":0.1},{"p":"2212.3 MeV","k":"B","x":-0.4,"y":0.12},{"p":"2212.3 MeV","k":"B","x":-0.25,"y":0.2},{"p":"2212.3 MeV","k":"B","x":-0.1,"y":0.35},{"p":"2212.3 MeV","k":"B","x":0.05,"y":0.5},{"p":"2212.3 MeV","k":"B","x":0.2,"y":0.65},{"p":"2212.3 MeV","k":"B","x":0.35,"y":0.8},{"p":"2212.3 MeV","k":"B","x":0.45,"y":0.85},{"p":"2212.3 MeV","k":"B","x":0.6,"y":0.78},{"p":"2212.3 MeV","k":"B","x":0.75,"y":0.68},{"p":"2212.3 MeV","k":"B","x":0.85,"y":0.62},{"p":"2212.3 MeV","k":"B","x":0.93,"y":0.7},{"p":"2212.3 MeV","k":"B","x":1,"y":1},

{"p":"2254.7 MeV","k":"c","x":-0.68,"lo":0.45,"y":0.68,"hi":0.91},
{"p":"2254.7 MeV","k":"c","x":-0.58,"lo":0.49,"y":0.78,"hi":1.06},
{"p":"2254.7 MeV","k":"c","x":-0.48,"lo":0.52,"y":0.85,"hi":1.18},
{"p":"2254.7 MeV","k":"c","x":-0.39,"lo":0.49,"y":0.79,"hi":1.09},
{"p":"2254.7 MeV","k":"c","x":-0.29,"lo":0.49,"y":0.74,"hi":0.99},
{"p":"2254.7 MeV","k":"c","x":-0.19,"lo":0.13,"y":0.42,"hi":0.7},
{"p":"2254.7 MeV","k":"c","x":-0.1,"lo":0.2,"y":0.49,"hi":0.77},
{"p":"2254.7 MeV","k":"c","x":0.0,"lo":0.27,"y":0.47,"hi":0.66},
{"p":"2254.7 MeV","k":"c","x":0.09,"lo":0.41,"y":0.63,"hi":0.84},
{"p":"2254.7 MeV","k":"c","x":0.19,"lo":0.74,"y":0.9,"hi":1.06},
{"p":"2254.7 MeV","k":"c","x":0.29,"lo":0.88,"y":1.0,"hi":1.13},
{"p":"2254.7 MeV","k":"c","x":0.38,"lo":0.84,"y":0.97,"hi":1.09},
{"p":"2254.7 MeV","k":"c","x":0.48,"lo":0.84,"y":0.95,"hi":1.06},
{"p":"2254.7 MeV","k":"c","x":0.58,"lo":0.74,"y":0.81,"hi":0.88},
{"p":"2254.7 MeV","k":"c","x":0.67,"lo":0.59,"y":0.66,"hi":0.74},
{"p":"2254.7 MeV","k":"c","x":0.77,"lo":0.56,"y":0.63,"hi":0.7},
{"p":"2254.7 MeV","k":"c","x":0.87,"lo":0.5,"y":0.58,"hi":0.66},
{"p":"2254.7 MeV","k":"r","x":-0.75,"lo":0.41,"y":0.6,"hi":0.86},
{"p":"2254.7 MeV","k":"r","x":-0.55,"lo":0.59,"y":0.92,"hi":1.25},
{"p":"2254.7 MeV","k":"r","x":-0.35,"lo":0.56,"y":0.85,"hi":1.15},
{"p":"2254.7 MeV","k":"r","x":-0.15,"lo":0.13,"y":0.35,"hi":0.56},
{"p":"2254.7 MeV","k":"r","x":0.05,"lo":0.34,"y":0.55,"hi":0.77},
{"p":"2254.7 MeV","k":"r","x":0.25,"lo":0.91,"y":1.02,"hi":1.13},
{"p":"2254.7 MeV","k":"r","x":0.45,"lo":0.88,"y":1.0,"hi":1.13},
{"p":"2254.7 MeV","k":"r","x":0.65,"lo":0.63,"y":0.7,"hi":0.77},
{"p":"2254.7 MeV","k":"r","x":0.85,"lo":0.49,"y":0.57,"hi":0.64},
{"p":"2254.7 MeV","k":"R","x":-1,"y":1},{"p":"2254.7 MeV","k":"R","x":-0.97,"y":0.7},{"p":"2254.7 MeV","k":"R","x":-0.92,"y":0.55},{"p":"2254.7 MeV","k":"R","x":-0.85,"y":0.6},{"p":"2254.7 MeV","k":"R","x":-0.7,"y":0.6},{"p":"2254.7 MeV","k":"R","x":-0.58,"y":0.55},{"p":"2254.7 MeV","k":"R","x":-0.45,"y":0.48},{"p":"2254.7 MeV","k":"R","x":-0.35,"y":0.45},{"p":"2254.7 MeV","k":"R","x":-0.2,"y":0.55},{"p":"2254.7 MeV","k":"R","x":-0.05,"y":0.75},{"p":"2254.7 MeV","k":"R","x":0.1,"y":0.88},{"p":"2254.7 MeV","k":"R","x":0.25,"y":0.93},{"p":"2254.7 MeV","k":"R","x":0.4,"y":0.92},{"p":"2254.7 MeV","k":"R","x":0.55,"y":0.85},{"p":"2254.7 MeV","k":"R","x":0.7,"y":0.78},{"p":"2254.7 MeV","k":"R","x":0.82,"y":0.72},{"p":"2254.7 MeV","k":"R","x":0.92,"y":0.75},{"p":"2254.7 MeV","k":"R","x":1,"y":1},
{"p":"2254.7 MeV","k":"B","x":-1,"y":1},{"p":"2254.7 MeV","k":"B","x":-0.92,"y":0.75},{"p":"2254.7 MeV","k":"B","x":-0.85,"y":0.45},{"p":"2254.7 MeV","k":"B","x":-0.75,"y":0.2},{"p":"2254.7 MeV","k":"B","x":-0.65,"y":0.05},{"p":"2254.7 MeV","k":"B","x":-0.5,"y":0.08},{"p":"2254.7 MeV","k":"B","x":-0.35,"y":0.15},{"p":"2254.7 MeV","k":"B","x":-0.2,"y":0.25},{"p":"2254.7 MeV","k":"B","x":-0.1,"y":0.35},{"p":"2254.7 MeV","k":"B","x":0.05,"y":0.5},{"p":"2254.7 MeV","k":"B","x":0.2,"y":0.7},{"p":"2254.7 MeV","k":"B","x":0.35,"y":0.85},{"p":"2254.7 MeV","k":"B","x":0.45,"y":0.88},{"p":"2254.7 MeV","k":"B","x":0.6,"y":0.78},{"p":"2254.7 MeV","k":"B","x":0.72,"y":0.68},{"p":"2254.7 MeV","k":"B","x":0.82,"y":0.58},{"p":"2254.7 MeV","k":"B","x":0.9,"y":0.6},{"p":"2254.7 MeV","k":"B","x":1,"y":1},

{"p":"2296.4 MeV","k":"c","x":-0.68,"lo":0.56,"y":0.86,"hi":1.16},
{"p":"2296.4 MeV","k":"c","x":-0.58,"lo":0.41,"y":0.68,"hi":0.95},
{"p":"2296.4 MeV","k":"c","x":-0.48,"lo":0.31,"y":0.61,"hi":0.91},
{"p":"2296.4 MeV","k":"c","x":-0.39,"lo":0.77,"y":0.98,"hi":1.19},
{"p":"2296.4 MeV","k":"c","x":-0.29,"lo":0.84,"y":0.97,"hi":1.09},
{"p":"2296.4 MeV","k":"c","x":-0.19,"lo":0.41,"y":0.66,"hi":0.91},
{"p":"2296.4 MeV","k":"c","x":-0.1,"lo":0.31,"y":0.58,"hi":0.84},
{"p":"2296.4 MeV","k":"c","x":0.0,"lo":0.63,"y":0.88,"hi":1.13},
{"p":"2296.4 MeV","k":"c","x":0.09,"lo":0.56,"y":0.77,"hi":0.99},
{"p":"2296.4 MeV","k":"c","x":0.19,"lo":0.59,"y":0.72,"hi":0.84},
{"p":"2296.4 MeV","k":"c","x":0.29,"lo":0.74,"y":0.86,"hi":0.99},
{"p":"2296.4 MeV","k":"c","x":0.38,"lo":0.91,"y":1.02,"hi":1.13},
{"p":"2296.4 MeV","k":"c","x":0.48,"lo":0.91,"y":1.02,"hi":1.13},
{"p":"2296.4 MeV","k":"c","x":0.58,"lo":0.7,"y":0.77,"hi":0.84},
{"p":"2296.4 MeV","k":"c","x":0.67,"lo":0.59,"y":0.66,"hi":0.74},
{"p":"2296.4 MeV","k":"c","x":0.77,"lo":0.52,"y":0.59,"hi":0.66},
{"p":"2296.4 MeV","k":"r","x":-0.75,"lo":0.74,"y":0.95,"hi":1.15},
{"p":"2296.4 MeV","k":"r","x":-0.55,"lo":0.13,"y":0.5,"hi":0.84},
{"p":"2296.4 MeV","k":"r","x":-0.35,"lo":0.95,"y":1.04,"hi":1.13},
{"p":"2296.4 MeV","k":"r","x":-0.15,"lo":0.16,"y":0.45,"hi":0.74},
{"p":"2296.4 MeV","k":"r","x":0.05,"lo":0.66,"y":0.9,"hi":1.13},
{"p":"2296.4 MeV","k":"r","x":0.25,"lo":0.56,"y":0.73,"hi":0.91},
{"p":"2296.4 MeV","k":"r","x":0.45,"lo":0.99,"y":1.06,"hi":1.13},
{"p":"2296.4 MeV","k":"r","x":0.65,"lo":0.52,"y":0.61,"hi":0.7},
{"p":"2296.4 MeV","k":"r","x":0.85,"lo":0.49,"y":0.6,"hi":0.7},
{"p":"2296.4 MeV","k":"R","x":-1,"y":1},{"p":"2296.4 MeV","k":"R","x":-0.95,"y":0.8},{"p":"2296.4 MeV","k":"R","x":-0.88,"y":0.67},{"p":"2296.4 MeV","k":"R","x":-0.8,"y":0.63},{"p":"2296.4 MeV","k":"R","x":-0.6,"y":0.64},{"p":"2296.4 MeV","k":"R","x":-0.45,"y":0.66},{"p":"2296.4 MeV","k":"R","x":-0.3,"y":0.7},{"p":"2296.4 MeV","k":"R","x":-0.15,"y":0.75},{"p":"2296.4 MeV","k":"R","x":0,"y":0.82},{"p":"2296.4 MeV","k":"R","x":0.2,"y":0.88},{"p":"2296.4 MeV","k":"R","x":0.35,"y":0.9},{"p":"2296.4 MeV","k":"R","x":0.45,"y":0.88},{"p":"2296.4 MeV","k":"R","x":0.6,"y":0.82},{"p":"2296.4 MeV","k":"R","x":0.75,"y":0.78},{"p":"2296.4 MeV","k":"R","x":0.85,"y":0.8},{"p":"2296.4 MeV","k":"R","x":0.93,"y":0.85},{"p":"2296.4 MeV","k":"R","x":1,"y":1},
{"p":"2296.4 MeV","k":"B","x":-1,"y":1},{"p":"2296.4 MeV","k":"B","x":-0.93,"y":0.75},{"p":"2296.4 MeV","k":"B","x":-0.85,"y":0.4},{"p":"2296.4 MeV","k":"B","x":-0.78,"y":0.1},{"p":"2296.4 MeV","k":"B","x":-0.72,"y":-0.02},{"p":"2296.4 MeV","k":"B","x":-0.6,"y":0.05},{"p":"2296.4 MeV","k":"B","x":-0.45,"y":0.15},{"p":"2296.4 MeV","k":"B","x":-0.3,"y":0.25},{"p":"2296.4 MeV","k":"B","x":-0.15,"y":0.35},{"p":"2296.4 MeV","k":"B","x":-0.05,"y":0.4},{"p":"2296.4 MeV","k":"B","x":0.1,"y":0.5},{"p":"2296.4 MeV","k":"B","x":0.25,"y":0.7},{"p":"2296.4 MeV","k":"B","x":0.38,"y":0.88},{"p":"2296.4 MeV","k":"B","x":0.45,"y":0.88},{"p":"2296.4 MeV","k":"B","x":0.6,"y":0.75},{"p":"2296.4 MeV","k":"B","x":0.75,"y":0.6},{"p":"2296.4 MeV","k":"B","x":0.85,"y":0.55},{"p":"2296.4 MeV","k":"B","x":0.93,"y":0.65},{"p":"2296.4 MeV","k":"B","x":1,"y":1}
]},
"facet":{"field":"p","type":"nominal","header":{"title":null,"labelPadding":0}},
"columns":5,
"spacing":{"row":94,"column":94},
"resolve":{"axis":{"x":"independent","y":"independent"}},
"spec":{
"width":160,"height":101,
"encoding":{"x":{"field":"x","type":"quantitative","title":"Cos θ","scale":{"domain":[-1,1],"nice":false,"zero":false},
"axis":{"values":[-1,-0.9,-0.8,-0.7,-0.6,-0.5,-0.4,-0.3,-0.2,-0.1,0,0.1,0.2,0.3,0.4,0.5,0.6,0.7,0.8,0.9,1],"labelOverlap":false,
"labelExpr":"abs(datum.value*2-round(datum.value*2))<0.001 ? format(datum.value,'.1f') : ''",
"gridDash":{"condition":{"test":"abs(datum.value*2-round(datum.value*2))<0.001","value":[4,93,4]},"value":[2,97,2]}}}},
"layer":[
{"transform":[{"filter":"datum.k==='c'"}],"mark":{"type":"rule","color":"#00ffff","strokeWidth":1.4,"clip":true},
"encoding":{"y":{"field":"lo","type":"quantitative","title":"Cz","scale":{"domain":[-1.06,1.12],"nice":false,"zero":false},
"axis":{"values":[-1,-0.9,-0.8,-0.7,-0.6,-0.5,-0.4,-0.3,-0.2,-0.1,0,0.1,0.2,0.3,0.4,0.5,0.6,0.7,0.8,0.9,1,1.1],"labelOverlap":false,
"labelExpr":"abs(datum.value*2-round(datum.value*2))<0.001 ? format(datum.value,'.1f') : ''",
"gridDash":{"condition":{"test":"abs(datum.value*2-round(datum.value*2))<0.001","value":[4,152,4]},"value":[2,156,2]}}},"y2":{"field":"hi"}}},
{"transform":[{"filter":"datum.k==='c'"}],"mark":{"type":"tick","orient":"horizontal","color":"#00ffff","size":5,"thickness":1.2,"clip":true},"encoding":{"y":{"field":"lo","type":"quantitative","title":"Cz","axis":{"values":[-1,-0.9,-0.8,-0.7,-0.6,-0.5,-0.4,-0.3,-0.2,-0.1,0,0.1,0.2,0.3,0.4,0.5,0.6,0.7,0.8,0.9,1,1.1],"labelOverlap":false,"labelExpr":"abs(datum.value*2-round(datum.value*2))<0.001 ? format(datum.value,'.1f') : ''","gridDash":{"condition":{"test":"abs(datum.value*2-round(datum.value*2))<0.001","value":[4,152,4]},"value":[2,156,2]}}}}},
{"transform":[{"filter":"datum.k==='c'"}],"mark":{"type":"tick","orient":"horizontal","color":"#00ffff","size":5,"thickness":1.2,"clip":true},"encoding":{"y":{"field":"hi","type":"quantitative","title":"Cz","axis":{"values":[-1,-0.9,-0.8,-0.7,-0.6,-0.5,-0.4,-0.3,-0.2,-0.1,0,0.1,0.2,0.3,0.4,0.5,0.6,0.7,0.8,0.9,1,1.1],"labelOverlap":false,"labelExpr":"abs(datum.value*2-round(datum.value*2))<0.001 ? format(datum.value,'.1f') : ''","gridDash":{"condition":{"test":"abs(datum.value*2-round(datum.value*2))<0.001","value":[4,152,4]},"value":[2,156,2]}}}}},
{"transform":[{"filter":"datum.k==='c'"}],"mark":{"type":"circle","color":"#00d8d8","size":5,"opacity":1,"clip":true},"encoding":{"y":{"field":"y","type":"quantitative","title":"Cz","axis":{"values":[-1,-0.9,-0.8,-0.7,-0.6,-0.5,-0.4,-0.3,-0.2,-0.1,0,0.1,0.2,0.3,0.4,0.5,0.6,0.7,0.8,0.9,1,1.1],"labelOverlap":false,"labelExpr":"abs(datum.value*2-round(datum.value*2))<0.001 ? format(datum.value,'.1f') : ''","gridDash":{"condition":{"test":"abs(datum.value*2-round(datum.value*2))<0.001","value":[4,152,4]},"value":[2,156,2]}}}}},
{"transform":[{"filter":"datum.k==='r'"}],"mark":{"type":"rule","color":"#ff0000","strokeWidth":1.4,"clip":true},"encoding":{"y":{"field":"lo","type":"quantitative","title":"Cz","axis":{"values":[-1,-0.9,-0.8,-0.7,-0.6,-0.5,-0.4,-0.3,-0.2,-0.1,0,0.1,0.2,0.3,0.4,0.5,0.6,0.7,0.8,0.9,1,1.1],"labelOverlap":false,"labelExpr":"abs(datum.value*2-round(datum.value*2))<0.001 ? format(datum.value,'.1f') : ''","gridDash":{"condition":{"test":"abs(datum.value*2-round(datum.value*2))<0.001","value":[4,152,4]},"value":[2,156,2]}}},"y2":{"field":"hi"}}},
{"transform":[{"filter":"datum.k==='r'"}],"mark":{"type":"tick","orient":"horizontal","color":"#ff0000","size":5,"thickness":1.2,"clip":true},"encoding":{"y":{"field":"lo","type":"quantitative","title":"Cz","axis":{"values":[-1,-0.9,-0.8,-0.7,-0.6,-0.5,-0.4,-0.3,-0.2,-0.1,0,0.1,0.2,0.3,0.4,0.5,0.6,0.7,0.8,0.9,1,1.1],"labelOverlap":false,"labelExpr":"abs(datum.value*2-round(datum.value*2))<0.001 ? format(datum.value,'.1f') : ''","gridDash":{"condition":{"test":"abs(datum.value*2-round(datum.value*2))<0.001","value":[4,152,4]},"value":[2,156,2]}}}}},
{"transform":[{"filter":"datum.k==='r'"}],"mark":{"type":"tick","orient":"horizontal","color":"#ff0000","size":5,"thickness":1.2,"clip":true},"encoding":{"y":{"field":"hi","type":"quantitative","title":"Cz","axis":{"values":[-1,-0.9,-0.8,-0.7,-0.6,-0.5,-0.4,-0.3,-0.2,-0.1,0,0.1,0.2,0.3,0.4,0.5,0.6,0.7,0.8,0.9,1,1.1],"labelOverlap":false,"labelExpr":"abs(datum.value*2-round(datum.value*2))<0.001 ? format(datum.value,'.1f') : ''","gridDash":{"condition":{"test":"abs(datum.value*2-round(datum.value*2))<0.001","value":[4,152,4]},"value":[2,156,2]}}}}},
{"transform":[{"filter":"datum.k==='r'"}],"mark":{"type":"circle","color":"#b00000","size":5,"opacity":1,"clip":true},"encoding":{"y":{"field":"y","type":"quantitative","title":"Cz","axis":{"values":[-1,-0.9,-0.8,-0.7,-0.6,-0.5,-0.4,-0.3,-0.2,-0.1,0,0.1,0.2,0.3,0.4,0.5,0.6,0.7,0.8,0.9,1,1.1],"labelOverlap":false,"labelExpr":"abs(datum.value*2-round(datum.value*2))<0.001 ? format(datum.value,'.1f') : ''","gridDash":{"condition":{"test":"abs(datum.value*2-round(datum.value*2))<0.001","value":[4,152,4]},"value":[2,156,2]}}}}},
{"transform":[{"filter":"datum.k==='R'"}],"mark":{"type":"line","color":"#ff0000","strokeWidth":1.4,"interpolate":"monotone","clip":true},"encoding":{"y":{"field":"y","type":"quantitative","title":"Cz","axis":{"values":[-1,-0.9,-0.8,-0.7,-0.6,-0.5,-0.4,-0.3,-0.2,-0.1,0,0.1,0.2,0.3,0.4,0.5,0.6,0.7,0.8,0.9,1,1.1],"labelOverlap":false,"labelExpr":"abs(datum.value*2-round(datum.value*2))<0.001 ? format(datum.value,'.1f') : ''","gridDash":{"condition":{"test":"abs(datum.value*2-round(datum.value*2))<0.001","value":[4,152,4]},"value":[2,156,2]}}}}},
{"transform":[{"filter":"datum.k==='B'"}],"mark":{"type":"line","color":"#0000ff","strokeWidth":1.4,"strokeDash":[4,3],"interpolate":"monotone","clip":true},"encoding":{"y":{"field":"y","type":"quantitative","title":"Cz","axis":{"values":[-1,-0.9,-0.8,-0.7,-0.6,-0.5,-0.4,-0.3,-0.2,-0.1,0,0.1,0.2,0.3,0.4,0.5,0.6,0.7,0.8,0.9,1,1.1],"labelOverlap":false,"labelExpr":"abs(datum.value*2-round(datum.value*2))<0.001 ? format(datum.value,'.1f') : ''","gridDash":{"condition":{"test":"abs(datum.value*2-round(datum.value*2))<0.001","value":[4,152,4]},"value":[2,156,2]}}}}}
]}
}
